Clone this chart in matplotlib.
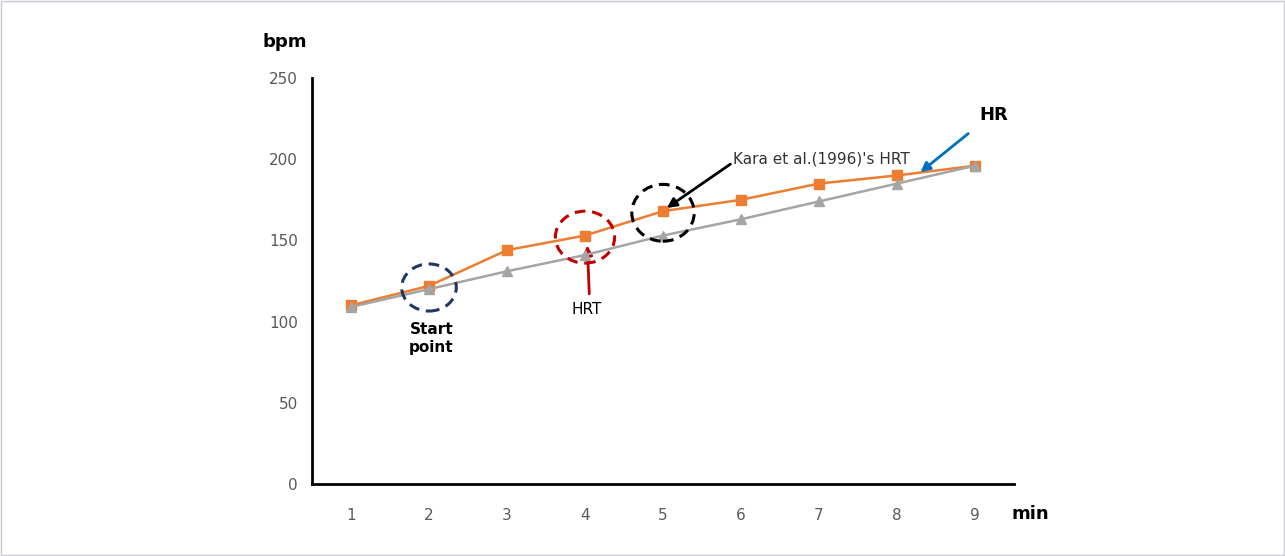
import matplotlib
matplotlib.use("Agg")
from matplotlib import pyplot as plt
from matplotlib.patches import Ellipse, Rectangle

minutes = [1, 2, 3, 4, 5, 6, 7, 8, 9]
hr = [110, 122, 144, 153, 168, 175, 185, 190, 196]
hr_line = [109, 120, 131, 141, 153, 163, 174, 185, 196]
y_ticks = [0, 50, 100, 150, 200, 250]

plt.rcParams['font.family'] = ['DejaVu Sans']

fig = plt.figure(figsize=(12.85, 5.56), dpi=100)
ax = fig.add_axes([0.2428, 0.1295, 0.5463, 0.7302])

ax.plot(minutes, hr, color='#ED7D31', lw=1.8, marker='s', ms=7, zorder=3)
ax.plot(minutes, hr_line, color='#A5A5A5', lw=1.8, marker='^', ms=7, zorder=4)

ax.set_xlim(0.5, 9.5)
ax.set_ylim(0, 250)
ax.set_xticks(minutes)
ax.set_yticks(y_ticks)
ax.tick_params(length=0, labelsize=11, labelcolor='#595959')
ax.tick_params(axis='y', pad=10)
ax.tick_params(axis='x', pad=17)
for s in ['top', 'right']:
    ax.spines[s].set_visible(False)
for s in ['left', 'bottom']:
    ax.spines[s].set_linewidth(2)

# dashed circles around points of interest
circles = [(1, '#1F3864', 0.7, 29), (3, '#C00000', 0.76, 32), (4, '#000000', 0.8, 35)]
for i, c, w, h in circles:
    ax.add_patch(Ellipse((minutes[i], hr[i] - 1), w, h, fill=False, ec=c,
                         lw=2.2, ls=(0, (3.5, 2.2)), zorder=5))

ax.text(minutes[1] + 0.03, hr_line[1] - 20, 'Start\npoint', ha='center', va='top',
        fontsize=11, fontweight='bold', linespacing=1.3)
ax.annotate('HRT', xy=(minutes[3] + 0.03, hr[3] - 6), xytext=(minutes[3] + 0.02, 112),
            ha='center', va='top', fontsize=11,
            arrowprops=dict(arrowstyle='-|>', color='#C00000', lw=2,
                            mutation_scale=14, shrinkA=4, shrinkB=0,
                            relpos=(0.6, 1)))
ax.annotate("Kara et al.(1996)'s HRT", xy=(minutes[4] + 0.05, hr[4] + 2),
            xytext=(5.9, 200), ha='left', va='center', fontsize=11, color='#333333',
            arrowprops=dict(arrowstyle='-|>', color='black', lw=2,
                            mutation_scale=14, shrinkA=0, shrinkB=0,
                            relpos=(0, 0.3)))
ax.annotate('HR', xy=(8.3, 192), xytext=(9.06, 227), ha='left', va='center',
            fontsize=13, fontweight='bold',
            arrowprops=dict(arrowstyle='-|>', color='#0070C0', lw=2,
                            mutation_scale=14, shrinkA=8, shrinkB=0,
                            relpos=(0, 0)))

fig.text(285 / 1285, 1 - 42 / 556, 'bpm', ha='center', va='center',
         fontsize=13, fontweight='bold')
fig.text(1030 / 1285, 1 - 514 / 556, 'min', ha='center', va='center',
         fontsize=13, fontweight='bold')

fig.patches.append(Rectangle((0.001, 0.002), 0.998, 0.996, transform=fig.transFigure,
                             fill=False, ec='#C8C8D8', lw=1))

fig.savefig('out.png', dpi=100)
